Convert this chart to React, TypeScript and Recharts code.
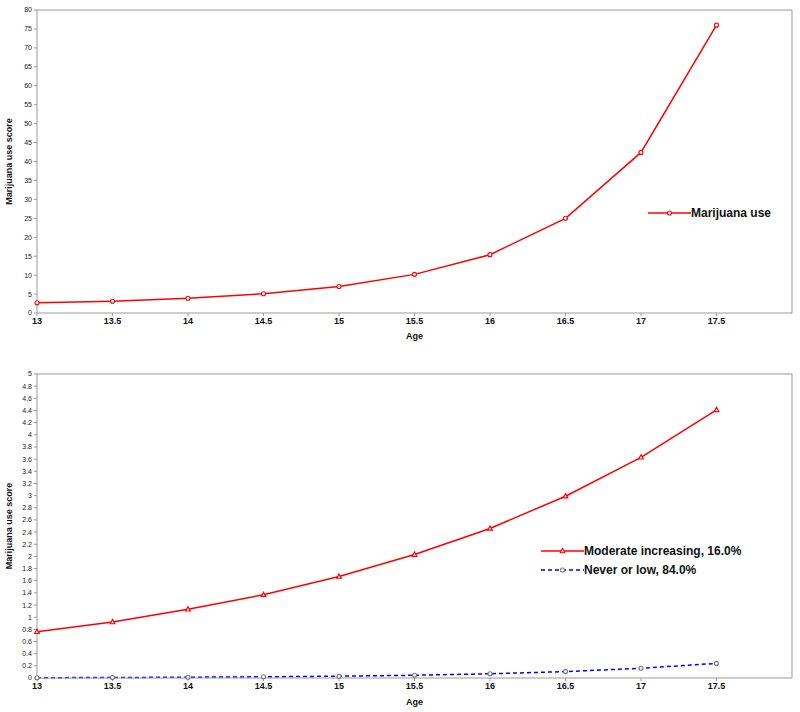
import React from 'react';
import { LineChart, Line, XAxis, YAxis, ReferenceLine } from 'recharts';

const ages = [13, 13.5, 14, 14.5, 15, 15.5, 16, 16.5, 17, 17.5];
const overallUse = [2.7, 3.1, 3.9, 5.1, 7.0, 10.2, 15.4, 25.0, 42.4, 76.0];
const moderateIncreasing = [0.76, 0.92, 1.13, 1.37, 1.67, 2.03, 2.46, 2.99, 3.63, 4.41];
const neverOrLow = [0.005, 0.008, 0.013, 0.02, 0.03, 0.045, 0.07, 0.105, 0.16, 0.24];
const xTicks = [13, 13.5, 14, 14.5, 15, 15.5, 16, 16.5, 17, 17.5];
const topYTicks = Array.from({ length: 17 }, (_, i) => i * 5);
const bottomYTicks = Array.from({ length: 26 }, (_, i) => Math.round(i * 0.2 * 10) / 10);

const topData = ages.map((age, i) => ({ age, use: overallUse[i] }));
const bottomData = ages.map((age, i) => ({ age, moderate: moderateIncreasing[i], never: neverOrLow[i] }));

const FONT = '"Liberation Sans", Arial, sans-serif';
const RED = '#ff0000';
const BLUE = '#0000ff';
const AXIS = '#9a9a9a';

const yTick = { fontSize: 7, fill: '#222', fontFamily: FONT };
const xTick = { fontSize: 9, fill: '#111', fontWeight: 'bold', fontFamily: FONT };

const CircleDot = (color: string) => (props: any) => {
  const { cx, cy, index } = props;
  if (cx == null || cy == null) return <g key={index} />;
  return <circle key={index} cx={cx} cy={cy} r={2} fill="#fff" stroke={color} strokeWidth={1.1} />;
};

const TriangleDot = (props: any) => {
  const { cx, cy, index } = props;
  if (cx == null || cy == null) return <g key={index} />;
  return (
    <polygon
      key={index}
      points={`${cx},${cy - 2.5} ${cx - 2.3},${cy + 1.7} ${cx + 2.3},${cy + 1.7}`}
      fill="#fff"
      stroke={RED}
      strokeWidth={1.2}
    />
  );
};

const yLabel = (props: any) => {
  const vb = props.viewBox;
  const cy = vb.y + vb.height / 2;
  return (
    <text
      x={12}
      y={cy}
      transform={`rotate(-90, 12, ${cy})`}
      textAnchor="middle"
      fontSize={9}
      fontWeight="bold"
      fontFamily={FONT}
      fill="#111"
    >
      Marijuana use score
    </text>
  );
};

type LegendItem = { label: string; color: string; dashed?: boolean; marker: 'circle' | 'triangle'; markerColor: string };

const ChartLegend = ({ items, left, top }: { items: LegendItem[]; left: number; top: number }) => (
  <div style={{ position: 'absolute', left, top, fontFamily: FONT }}>
    {items.map((it) => (
      <div key={it.label} style={{ display: 'flex', alignItems: 'center', height: 19 }}>
        <svg width={43} height={10}>
          <line x1={0} y1={5} x2={43} y2={5} stroke={it.color} strokeWidth={1.3} strokeDasharray={it.dashed ? '4 3' : undefined} />
          {it.marker === 'circle' ? (
            <circle cx={21.5} cy={5} r={2} fill="#fff" stroke={it.markerColor} strokeWidth={1.1} />
          ) : (
            <polygon points="21.5,2.5 19.2,6.7 23.8,6.7" fill="#fff" stroke={it.markerColor} strokeWidth={1.1} />
          )}
        </svg>
        <span style={{ fontSize: 12, fontWeight: 'bold', color: '#111', whiteSpace: 'nowrap' }}>{it.label}</span>
      </div>
    ))}
  </div>
);

export default function App() {
  return (
    <div style={{ position: 'absolute', left: 0, top: 0, width: 800, height: 712, background: '#fff' }}>
      <div style={{ position: 'absolute', left: 0, top: 0 }}>
        <LineChart width={800} height={350} data={topData} margin={{ top: 10, right: 8, bottom: 0, left: 0 }}>
          <XAxis
            dataKey="age"
            type="number"
            domain={[13, 18]}
            ticks={xTicks}
            stroke={AXIS}
            tick={xTick}
            tickSize={3}
            height={37}
            label={{ value: 'Age', position: 'insideBottom', offset: 11, fontSize: 9, fontWeight: 'bold', fill: '#111', fontFamily: FONT }}
          />
          <YAxis
            type="number"
            domain={[0, 80]}
            ticks={topYTicks}
            interval={0}
            stroke={AXIS}
            tick={yTick}
            tickSize={3}
            width={37}
            label={yLabel}
          />
          <ReferenceLine y={80} stroke={AXIS} />
          <ReferenceLine x={18} stroke={AXIS} />
          <Line dataKey="use" name="Marijuana use" stroke={RED} strokeWidth={1.5} dot={CircleDot(RED)} isAnimationActive={false} />
        </LineChart>
        <ChartLegend items={[{ label: 'Marijuana use', color: RED, marker: 'circle', markerColor: RED }]} left={648} top={203} />
      </div>
      <div style={{ position: 'absolute', left: 0, top: 360 }}>
        <LineChart width={800} height={352} data={bottomData} margin={{ top: 14, right: 8, bottom: 0, left: 0 }}>
          <XAxis
            dataKey="age"
            type="number"
            domain={[13, 18]}
            ticks={xTicks}
            stroke={AXIS}
            tick={xTick}
            tickSize={3}
            height={34}
            label={{ value: 'Age', position: 'insideBottom', offset: 7, fontSize: 9, fontWeight: 'bold', fill: '#111', fontFamily: FONT }}
          />
          <YAxis
            type="number"
            domain={[0, 5]}
            ticks={bottomYTicks}
            interval={0}
            stroke={AXIS}
            tick={yTick}
            tickSize={3}
            width={37}
            label={yLabel}
          />
          <ReferenceLine y={5} stroke={AXIS} />
          <ReferenceLine x={18} stroke={AXIS} />
          <Line dataKey="moderate" name="Moderate increasing, 16.0%" stroke={RED} strokeWidth={1.5} dot={TriangleDot} isAnimationActive={false} />
          <Line dataKey="never" name="Never or low, 84.0%" stroke={BLUE} strokeWidth={1.5} strokeDasharray="4 3" dot={CircleDot('#777')} isAnimationActive={false} />
        </LineChart>
        <ChartLegend
          items={[
            { label: 'Moderate increasing, 16.0%', color: RED, marker: 'triangle', markerColor: RED },
            { label: 'Never or low, 84.0%', color: BLUE, dashed: true, marker: 'circle', markerColor: '#777' },
          ]}
          left={541}
          top={181}
        />
      </div>
    </div>
  );
}
